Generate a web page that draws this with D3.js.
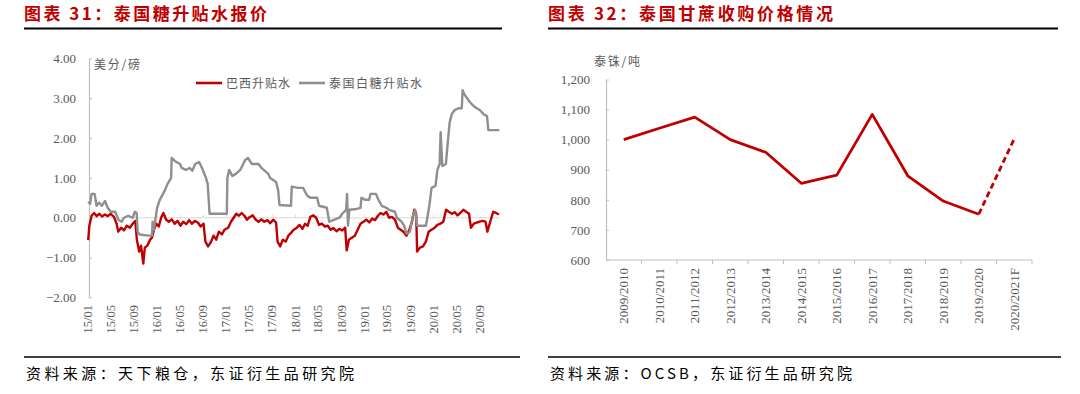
<!DOCTYPE html>
<html>
<head>
<meta charset="utf-8">
<script src="https://cdn.jsdelivr.net/npm/d3@7"></script>
<style>
  html, body { margin: 0; padding: 0; background: #fff; }
  svg { display: block; }
</style>
</head>
<body>
<svg id="chart"></svg>
<script>
// ---- data: left chart (美分/磅) ----
const brazilSpread = [
  ["2015-01-02", -0.56], ["2015-01-08", -0.2], ["2015-01-20", 0.05], ["2015-02-02", 0.12],
  ["2015-02-16", 0.04], ["2015-03-02", 0.1], ["2015-03-16", 0.03], ["2015-04-01", 0.08],
  ["2015-04-15", 0.04], ["2015-05-01", 0.1], ["2015-05-18", 0.02], ["2015-06-01", -0.15],
  ["2015-06-10", -0.35], ["2015-06-25", -0.25], ["2015-07-10", -0.32], ["2015-07-25", -0.2],
  ["2015-08-10", -0.25], ["2015-08-25", -0.15], ["2015-09-08", -0.08], ["2015-09-16", -0.55],
  ["2015-09-28", -0.85], ["2015-10-08", -0.7], ["2015-10-20", -1.15], ["2015-10-28", -0.75],
  ["2015-11-10", -0.7], ["2015-11-25", -0.55], ["2015-12-05", -0.5], ["2015-12-15", -0.3],
  ["2015-12-28", -0.15], ["2016-01-10", -0.22], ["2016-01-22", 0.0], ["2016-02-03", 0.12],
  ["2016-02-18", -0.05], ["2016-03-03", -0.1], ["2016-03-18", -0.04], ["2016-04-03", -0.15],
  ["2016-04-18", -0.08], ["2016-05-03", -0.2], ["2016-05-18", -0.1], ["2016-06-03", -0.16],
  ["2016-06-18", -0.06], ["2016-07-03", -0.15], ["2016-07-18", -0.08], ["2016-08-03", -0.12],
  ["2016-08-18", -0.22], ["2016-09-02", -0.15], ["2016-09-12", -0.6], ["2016-09-26", -0.72],
  ["2016-10-10", -0.62], ["2016-10-25", -0.45], ["2016-11-08", -0.55], ["2016-11-22", -0.35],
  ["2016-12-08", -0.42], ["2016-12-22", -0.3], ["2017-01-10", -0.25], ["2017-01-25", -0.1],
  ["2017-02-08", 0.0], ["2017-02-22", 0.1], ["2017-03-08", 0.05], ["2017-03-22", 0.12],
  ["2017-04-06", 0.05], ["2017-04-20", -0.05], ["2017-05-05", 0.02], ["2017-05-20", 0.06],
  ["2017-06-05", -0.05], ["2017-06-20", -0.1], ["2017-07-05", -0.04], ["2017-07-20", -0.1],
  ["2017-08-05", -0.06], ["2017-08-20", -0.14], ["2017-09-05", -0.05], ["2017-09-20", -0.12],
  ["2017-09-28", -0.6], ["2017-10-12", -0.72], ["2017-10-26", -0.55], ["2017-11-10", -0.6],
  ["2017-11-24", -0.45], ["2017-12-08", -0.38], ["2017-12-22", -0.3], ["2018-01-08", -0.25],
  ["2018-01-22", -0.18], ["2018-02-06", -0.28], ["2018-02-20", -0.15], ["2018-03-06", -0.2],
  ["2018-03-20", 0.02], ["2018-04-05", 0.06], ["2018-04-20", 0.0], ["2018-05-05", -0.18],
  ["2018-05-20", -0.15], ["2018-06-05", -0.22], ["2018-06-20", -0.2], ["2018-07-05", -0.3],
  ["2018-07-20", -0.26], ["2018-08-05", -0.34], ["2018-08-20", -0.28], ["2018-09-05", -0.32],
  ["2018-09-20", -0.25], ["2018-09-28", -0.82], ["2018-10-10", -0.55], ["2018-10-25", -0.5],
  ["2018-11-10", -0.45], ["2018-11-25", -0.3], ["2018-12-10", -0.15], ["2018-12-25", -0.1],
  ["2019-01-10", -0.05], ["2019-01-25", -0.12], ["2019-02-10", -0.02], ["2019-02-25", -0.06],
  ["2019-03-12", 0.05], ["2019-03-26", 0.12], ["2019-04-10", 0.08], ["2019-04-25", 0.15],
  ["2019-05-10", 0.0], ["2019-05-25", 0.02], ["2019-06-10", -0.05], ["2019-06-25", -0.25],
  ["2019-07-10", -0.3], ["2019-07-25", -0.35], ["2019-08-10", -0.45], ["2019-08-25", -0.3],
  ["2019-09-08", -0.1], ["2019-09-20", 0.2], ["2019-09-30", 0.1], ["2019-10-05", -0.85],
  ["2019-10-20", -0.75], ["2019-11-05", -0.72], ["2019-11-20", -0.6], ["2019-12-05", -0.35],
  ["2019-12-20", -0.3], ["2020-01-06", -0.25], ["2020-01-20", -0.18], ["2020-02-05", -0.15],
  ["2020-02-20", -0.1], ["2020-03-06", 0.2], ["2020-03-20", 0.15], ["2020-04-06", 0.1],
  ["2020-04-20", 0.14], ["2020-05-06", 0.06], ["2020-05-20", 0.12], ["2020-06-05", 0.2],
  ["2020-06-20", 0.15], ["2020-07-05", 0.1], ["2020-07-15", -0.25], ["2020-07-30", -0.15],
  ["2020-08-15", -0.12], ["2020-08-30", -0.1], ["2020-09-15", -0.08], ["2020-09-30", -0.1],
  ["2020-10-10", -0.35], ["2020-10-25", -0.1], ["2020-11-10", 0.15], ["2020-11-25", 0.12],
  ["2020-12-10", 0.08]
];

const thaiSpread = [
  ["2015-01-02", 0.4], ["2015-01-12", 0.35], ["2015-01-20", 0.6], ["2015-02-05", 0.6],
  ["2015-02-15", 0.3], ["2015-03-01", 0.38], ["2015-03-15", 0.3], ["2015-04-01", 0.42],
  ["2015-04-15", 0.25], ["2015-05-01", 0.15], ["2015-05-25", 0.15], ["2015-06-10", -0.05],
  ["2015-06-28", -0.1], ["2015-07-10", 0.0], ["2015-08-01", 0.05], ["2015-08-25", 0.0],
  ["2015-09-05", 0.15], ["2015-09-15", 0.12], ["2015-09-20", -0.35], ["2015-10-01", -0.42],
  ["2015-11-15", -0.45], ["2015-12-05", -0.45], ["2015-12-08", -0.1], ["2015-12-15", -0.3],
  ["2016-01-01", 0.25], ["2016-01-15", 0.45], ["2016-02-01", 0.6], ["2016-02-12", 0.7],
  ["2016-02-25", 0.85], ["2016-03-15", 1.0], ["2016-03-18", 1.5], ["2016-04-05", 1.42],
  ["2016-05-01", 1.35], ["2016-05-10", 1.25], ["2016-06-01", 1.2], ["2016-06-20", 1.25],
  ["2016-07-05", 1.18], ["2016-07-20", 1.35], ["2016-08-10", 1.4], ["2016-08-25", 1.25],
  ["2016-09-15", 1.0], ["2016-09-24", 0.85], ["2016-10-04", 0.1], ["2017-01-03", 0.1],
  ["2017-01-06", 1.0], ["2017-01-15", 1.2], ["2017-02-01", 1.05], ["2017-02-20", 1.1],
  ["2017-03-15", 1.2], ["2017-04-10", 1.45], ["2017-04-25", 1.5], ["2017-05-15", 1.35],
  ["2017-06-20", 1.35], ["2017-07-05", 1.25], ["2017-08-10", 1.1], ["2017-08-20", 1.0],
  ["2017-09-20", 0.9], ["2017-10-01", 0.7], ["2017-10-08", 0.32], ["2017-12-08", 0.3],
  ["2017-12-12", 0.78], ["2018-01-15", 0.75], ["2018-02-10", 0.75], ["2018-02-20", 0.65],
  ["2018-03-05", 0.55], ["2018-03-20", 0.5], ["2018-04-25", 0.5], ["2018-05-05", 0.3],
  ["2018-06-15", 0.25], ["2018-06-28", -0.1], ["2018-07-25", -0.05], ["2018-08-20", 0.0],
  ["2018-09-05", 0.1], ["2018-09-25", 0.2], ["2018-09-30", 0.6], ["2018-10-05", -0.2],
  ["2018-10-12", 0.2], ["2018-11-20", 0.22], ["2018-12-10", 0.25], ["2018-12-15", 0.5],
  ["2019-01-05", 0.45], ["2019-01-25", 0.45], ["2019-02-01", 0.6], ["2019-03-01", 0.6],
  ["2019-03-15", 0.45], ["2019-04-01", 0.3], ["2019-04-25", 0.25], ["2019-05-10", 0.2],
  ["2019-06-10", 0.15], ["2019-06-20", 0.0], ["2019-07-15", -0.1], ["2019-07-28", -0.2],
  ["2019-08-10", -0.4], ["2019-08-28", -0.35], ["2019-09-10", 0.0], ["2019-09-25", 0.2],
  ["2019-10-05", -0.2], ["2019-11-20", -0.2], ["2019-11-28", 0.0], ["2019-12-10", 0.35],
  ["2019-12-20", 0.75], ["2020-01-10", 0.8], ["2020-01-20", 1.2], ["2020-02-01", 1.35],
  ["2020-02-06", 2.15], ["2020-02-15", 1.3], ["2020-03-05", 1.35], ["2020-03-15", 1.9],
  ["2020-03-25", 2.4], ["2020-04-05", 2.6], ["2020-04-20", 2.7], ["2020-05-10", 2.75],
  ["2020-05-28", 2.75], ["2020-06-01", 3.2], ["2020-06-10", 3.1], ["2020-06-25", 3.0],
  ["2020-07-10", 2.9], ["2020-07-30", 2.8], ["2020-08-15", 2.75], ["2020-09-01", 2.7],
  ["2020-09-20", 2.6], ["2020-10-08", 2.55], ["2020-10-15", 2.2], ["2020-12-12", 2.2]
];

const leftYTicks = [-2, -1, 0, 1, 2, 3, 4];
const leftXTickLabels = ["15/01", "15/05", "15/09", "16/01", "16/05", "16/09", "17/01", "17/05", "17/09",
  "18/01", "18/05", "18/09", "19/01", "19/05", "19/09", "20/01", "20/05", "20/09"];

// ---- data: right chart (泰铢/吨) ----
const seasons = ["2009/2010", "2010/2011", "2011/2012", "2012/2013", "2013/2014", "2014/2015",
  "2015/2016", "2016/2017", "2017/2018", "2018/2019", "2019/2020", "2020/2021F"];
const canePrice = [1000, 1038, 1075, 1000, 958, 855, 882, 1084, 880, 796, 752, 1003];
const rightYTicks = [600, 700, 800, 900, 1000, 1100, 1200];

// ---- styles ----
const RED = "#C00000";
const GRAY = "#8F8F8F";
const AXIS = "#BFBFBF";
const LABEL = "#595959";
const SERIF = "'Liberation Serif', 'Times New Roman', serif";
const CJK = "'Noto Sans CJK SC', sans-serif";

const width = 1080;
const height = 394;
const svg = d3.select("#chart").attr("width", width).attr("height", height);

// ---- headers and footers ----
function frame(x0, x1, x2, title, titleLen, source, sourceLen) {
  svg.append("text")
    .attr("x", x0).attr("y", 20)
    .attr("fill", RED)
    .attr("font-family", CJK)
    .attr("font-weight", "bold")
    .attr("font-size", 17)
    .attr("textLength", titleLen)
    .attr("lengthAdjust", "spacing")
    .text(title);
  svg.append("line")
    .attr("x1", x0).attr("x2", x1).attr("y1", 28.5).attr("y2", 28.5)
    .attr("stroke", "#000").attr("stroke-width", 2);
  svg.append("line")
    .attr("x1", x0).attr("x2", x2).attr("y1", 357).attr("y2", 357)
    .attr("stroke", "#000").attr("stroke-width", 1.5);
  svg.append("text")
    .attr("x", x0 + 2).attr("y", 379)
    .attr("fill", "#000")
    .attr("font-family", CJK)
    .attr("font-size", 15)
    .attr("textLength", sourceLen)
    .attr("lengthAdjust", "spacing")
    .text(source);
}
frame(24, 502, 520, "图表 31：泰国糖升贴水报价", 243, "资料来源：天下粮仓，东证衍生品研究院", 328);
frame(548, 1058, 1061, "图表 32：泰国甘蔗收购价格情况", 285, "资料来源：OCSB，东证衍生品研究院", 302);

// ---- left chart ----
const parse = d3.timeParse("%Y-%m-%d");
const brazil = brazilSpread.map(d => ({ date: parse(d[0]), value: d[1] }));
const thai = thaiSpread.map(d => ({ date: parse(d[0]), value: d[1] }));

const xL = d3.scaleTime()
  .domain([parse("2015-01-01"), parse("2020-09-01")])
  .range([88, 480]);
const yL = d3.scaleLinear().domain([-2, 4]).range([297.4, 58.4]);
const axisX = 89;

// y axis
const gyL = svg.append("g")
  .attr("transform", `translate(${axisX},0)`)
  .call(d3.axisLeft(yL).tickValues(leftYTicks).tickFormat(d3.format(".2f")).tickSize(0).tickPadding(13));
gyL.select(".domain").attr("stroke", AXIS).attr("stroke-width", 1.2);
gyL.selectAll("text").attr("fill", LABEL).attr("font-family", SERIF).attr("font-size", 13);
gyL.selectAll(".tick").append("line").attr("x2", 3).attr("stroke", AXIS);

// zero line with ticks
const zeroEnd = d3.max(brazil, d => d.date);
svg.append("line")
  .attr("x1", axisX).attr("x2", xL(zeroEnd))
  .attr("y1", yL(0)).attr("y2", yL(0))
  .attr("stroke", "#D9D9D9").attr("stroke-width", 1.2);
const tickDates = leftXTickLabels.map(s => d3.timeParse("%y/%m")(s));
svg.append("g").selectAll("line")
  .data(tickDates.slice(1))
  .join("line")
  .attr("x1", d => xL(d)).attr("x2", d => xL(d))
  .attr("y1", yL(0)).attr("y2", yL(0) - 3)
  .attr("stroke", "#D9D9D9");

// x labels (bottom)
svg.append("g").selectAll("text")
  .data(leftXTickLabels)
  .join("text")
  .attr("transform", (d, i) => `translate(${xL(tickDates[i]) + 4},305) rotate(-90)`)
  .attr("text-anchor", "end")
  .attr("fill", LABEL)
  .attr("font-family", SERIF)
  .attr("font-size", 12.5)
  .text(d => d);

// unit
svg.append("text")
  .attr("x", 94).attr("y", 69)
  .attr("fill", LABEL).attr("font-family", CJK).attr("font-size", 12)
  .attr("textLength", 46).attr("lengthAdjust", "spacing")
  .text("美分/磅");

const lineL = d3.line().x(d => xL(d.date)).y(d => yL(d.value));
svg.append("path").datum(brazil)
  .attr("d", lineL).attr("fill", "none")
  .attr("stroke", RED).attr("stroke-width", 2.4).attr("stroke-linejoin", "round");
svg.append("path").datum(thai)
  .attr("d", lineL).attr("fill", "none")
  .attr("stroke", GRAY).attr("stroke-width", 2.4).attr("stroke-linejoin", "round");

// legend
const legend = [
  { name: "巴西升贴水", color: RED, x: 196, len: 64 },
  { name: "泰国白糖升贴水", color: GRAY, x: 299, len: 93 }
];
const lg = svg.append("g").selectAll("g").data(legend).join("g");
lg.append("line")
  .attr("x1", d => d.x).attr("x2", d => d.x + 26)
  .attr("y1", 83).attr("y2", 83)
  .attr("stroke", d => d.color).attr("stroke-width", 2.6);
lg.append("text")
  .attr("x", d => d.x + 30).attr("y", 87.5)
  .attr("fill", LABEL).attr("font-family", CJK).attr("font-size", 12)
  .attr("textLength", d => d.len).attr("lengthAdjust", "spacing")
  .text(d => d.name);

// ---- right chart ----
const xR = d3.scaleBand().domain(seasons).range([606, 1032]);
const yR = d3.scaleLinear().domain([600, 1200]).range([260, 79.5]);

const gyR = svg.append("g")
  .attr("transform", "translate(606,0)")
  .call(d3.axisLeft(yR).tickValues(rightYTicks).tickFormat(d3.format(",")).tickSize(0).tickPadding(16));
gyR.select(".domain").attr("stroke", AXIS).attr("stroke-width", 1.2);
gyR.selectAll("text").attr("fill", LABEL).attr("font-family", SERIF).attr("font-size", 13);
gyR.selectAll(".tick").append("line").attr("x2", 3).attr("stroke", AXIS);

// x axis line and boundary ticks
svg.append("line")
  .attr("x1", 606).attr("x2", 1032).attr("y1", 260).attr("y2", 260)
  .attr("stroke", AXIS).attr("stroke-width", 1.2);
svg.append("g").selectAll("line")
  .data(seasons)
  .join("line")
  .attr("x1", d => xR(d) + xR.bandwidth()).attr("x2", d => xR(d) + xR.bandwidth())
  .attr("y1", 260).attr("y2", 264)
  .attr("stroke", AXIS);

svg.append("g").selectAll("text")
  .data(seasons)
  .join("text")
  .attr("transform", d => `translate(${xR(d) + xR.bandwidth() / 2 + 4.5},268) rotate(-90)`)
  .attr("text-anchor", "end")
  .attr("fill", LABEL)
  .attr("font-family", SERIF)
  .attr("font-size", 13)
  .text(d => d);

svg.append("text")
  .attr("x", 594).attr("y", 66)
  .attr("fill", LABEL).attr("font-family", CJK).attr("font-size", 12)
  .attr("textLength", 46).attr("lengthAdjust", "spacing")
  .text("泰铢/吨");

const priceData = seasons.map((s, i) => ({ season: s, value: canePrice[i] }));
const lineR = d3.line().x(d => xR(d.season) + xR.bandwidth() / 2).y(d => yR(d.value));
const n = priceData.length;
svg.append("path").datum(priceData.slice(0, n - 1))
  .attr("d", lineR).attr("fill", "none")
  .attr("stroke", RED).attr("stroke-width", 2.8).attr("stroke-linejoin", "round");
svg.append("path").datum(priceData.slice(n - 2))
  .attr("d", lineR).attr("fill", "none")
  .attr("stroke", RED).attr("stroke-width", 2.8).attr("stroke-dasharray", "6,3.5");
</script>
</body>
</html>
